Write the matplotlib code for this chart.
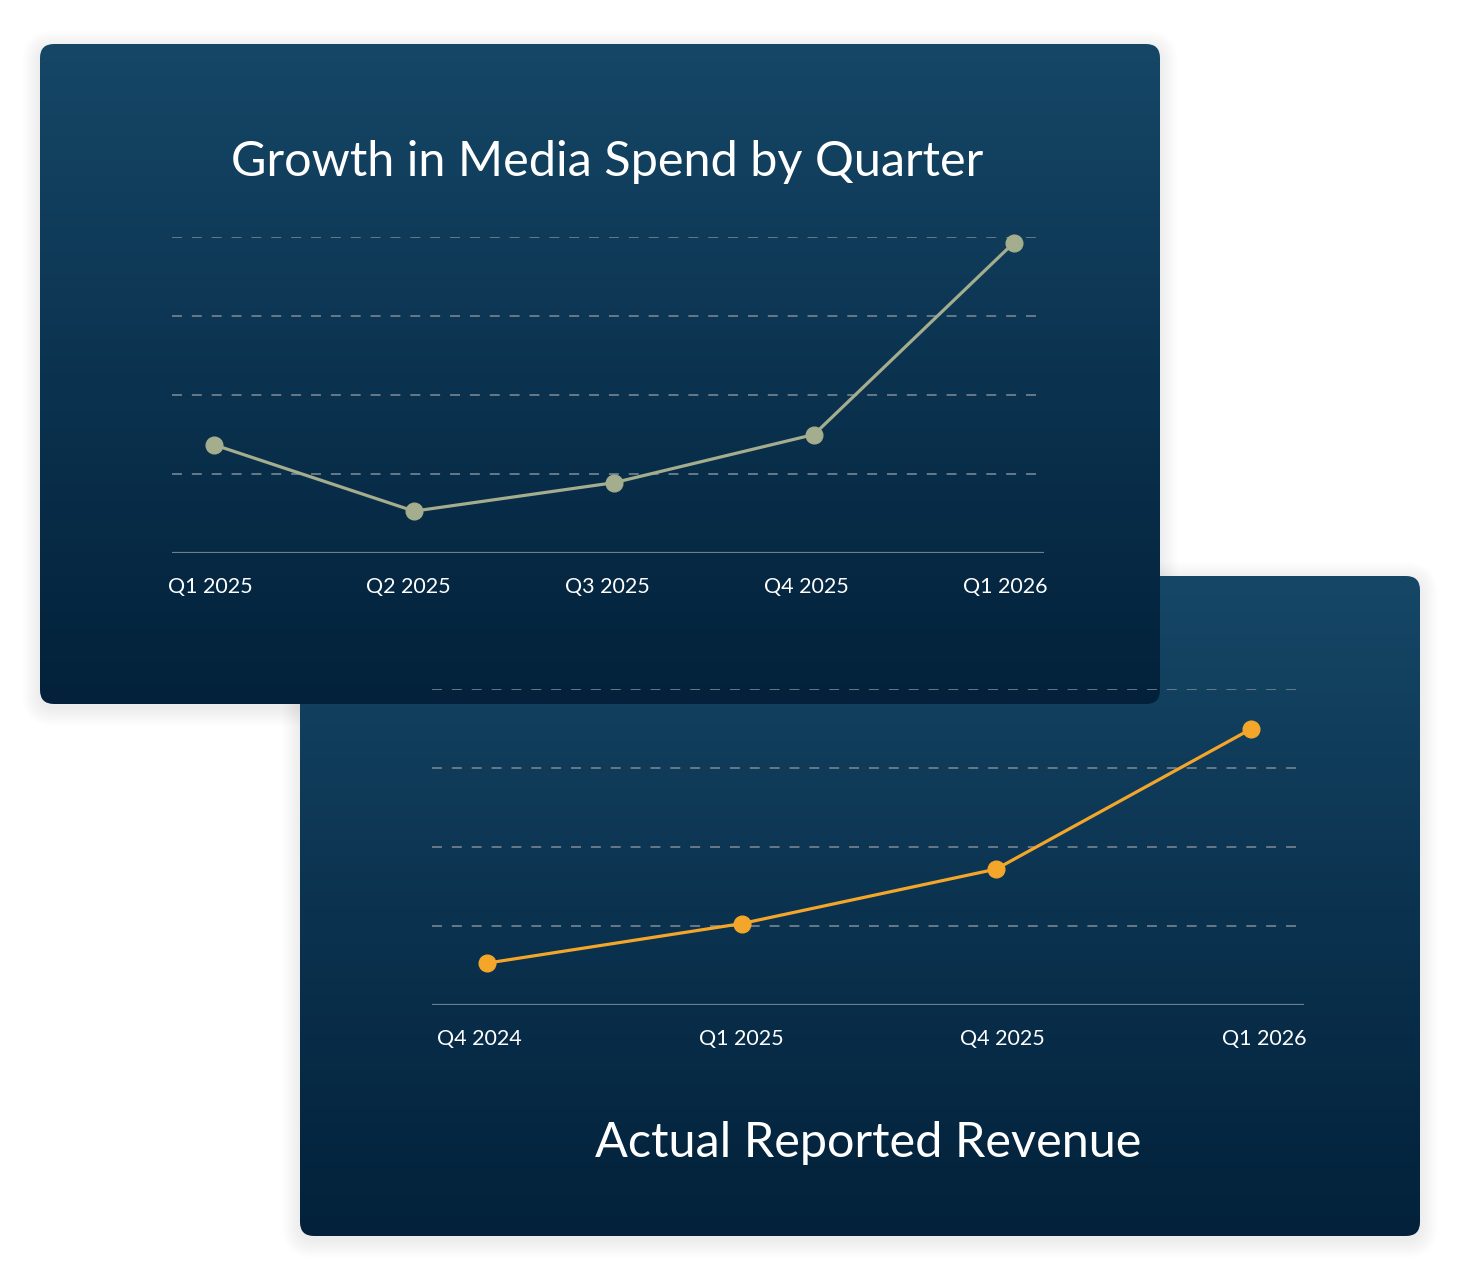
import numpy as np
import matplotlib.pyplot as plt
from matplotlib.patches import FancyBboxPatch
from matplotlib.colors import LinearSegmentedColormap

# data
spend_labels = ["Q1 2025", "Q2 2025", "Q3 2025", "Q4 2025", "Q1 2026"]
spend_values = [1.37, 0.53, 0.89, 1.50, 3.93]

revenue_labels = ["Q4 2024", "Q1 2025", "Q4 2025", "Q1 2026"]
revenue_values = [0.53, 1.03, 1.72, 3.49]

W, H = 1460, 1280
fig = plt.figure(figsize=(W / 100, H / 100), dpi=100)
fig.patch.set_facecolor("white")

bg = fig.add_axes([0, 0, 1, 1])
bg.set_xlim(0, W)
bg.set_ylim(H, 0)
bg.axis("off")

grad = LinearSegmentedColormap.from_list("card", ["#164767", "#0b3350", "#03213a"])
FONT = ["Lato", "DejaVu Sans"]


def card(x0, y0, x1, y1):
    # soft shadow
    for k in range(18, 0, -1):
        sh = FancyBboxPatch((x0 - k, y0 - k + 4), x1 - x0 + 2 * k, y1 - y0 + 2 * k,
                            boxstyle="round,pad=0,rounding_size=%d" % (14 + k),
                            fc="black", ec="none", alpha=0.005, zorder=1)
        bg.add_patch(sh)
    box = FancyBboxPatch((x0, y0), x1 - x0, y1 - y0,
                         boxstyle="round,pad=0,rounding_size=14",
                         fc="none", ec="none", zorder=2)
    bg.add_patch(box)
    g = np.linspace(0, 1, 256).reshape(-1, 1)
    im = bg.imshow(g, cmap=grad, extent=(x0, x1, y1, y0), aspect="auto",
                   zorder=2, interpolation="bicubic")
    im.set_clip_path(box)


def px_axes(x0, y0, x1, y1):
    return fig.add_axes([x0 / W, 1 - y1 / H, (x1 - x0) / W, (y1 - y0) / H], zorder=5)


def line_chart(ax, labels, values, color, xlim, tick_span):
    ax.set_facecolor("none")
    x = np.arange(len(values))
    for yv in [1, 2, 3, 4]:
        ax.axhline(yv, color="#6d7f8d", lw=1.3, ls=(0, (5.5, 5.5)), zorder=1)
    ax.axhline(0, color="#6d7f8d", lw=1.6, zorder=1)
    ax.plot(x, values, color=color, lw=2.3, marker="o", ms=12, zorder=3, clip_on=False)
    ax.set_xlim(*xlim)
    ax.set_ylim(0, 4)
    ax.set_xticks(np.linspace(tick_span[0], tick_span[1], len(labels)))
    ax.set_xticklabels(labels, color="white", fontsize=15.5, family=FONT)
    ax.tick_params(axis="x", length=0, pad=17)
    ax.set_yticks([])
    for s in ax.spines.values():
        s.set_visible(False)


# bottom card first, top card overlaps it
card(300, 576, 1420, 1236)
card(40, 44, 1160, 704)

ax1 = px_axes(172, 237, 1044, 553)
line_chart(ax1, spend_labels, spend_values, "#a4ad8d", (-0.21, 4.15), (-0.02, 3.955))
ax1.set_zorder(6)

ax2 = px_axes(432, 689, 1304, 1005)
line_chart(ax2, revenue_labels, revenue_values, "#f4a62a", (-0.216, 3.21), (-0.031, 3.055))
ax2.set_zorder(3)

bg.text(607, 162, "Growth in Media Spend by Quarter", color="white", fontsize=35,
        ha="center", va="center", family=FONT, zorder=10)
bg.text(868, 1143, "Actual Reported Revenue", color="white", fontsize=35,
        ha="center", va="center", family=FONT, zorder=4)

fig.savefig("out.png", dpi=100, facecolor="white")
